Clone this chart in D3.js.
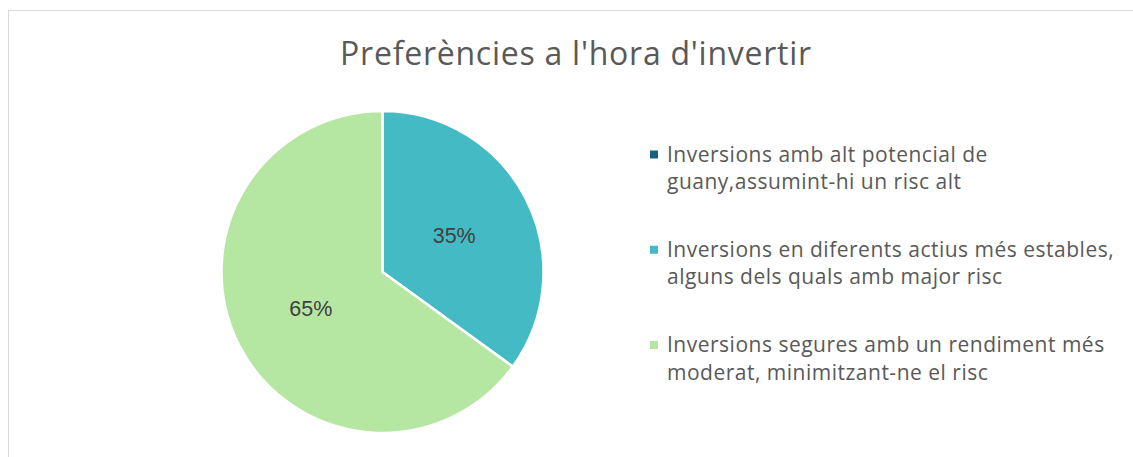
<!DOCTYPE html>
<html>
  <head>
    <meta charset="utf-8">
    <title>Preferències a l'hora d'invertir</title>
    <script src="https://d3js.org/d3.v7.min.js"></script>
    <style>
      html, body { margin: 0; padding: 0; background: #fff; }
      svg { display: block; }
    </style>
  </head>
  <body>
    <div id="vis"></div>
    <script>
        const width = 1133;
        const height = 457;

        // chart data
        const categories = [
          ["Inversions amb alt potencial de", "guany,assumint-hi un risc alt"],
          ["Inversions en diferents actius més estables,", "alguns dels quals amb major risc"],
          ["Inversions segures amb un rendiment més", "moderat, minimitzant-ne el risc"]
        ];
        const values = [0, 35, 65];
        const colors = ["#1b5f80", "#44bac4", "#b5e6a2"];
        const title = "Preferències a l'hora d'invertir";

        const vis = d3.select('#vis')
                      .append('svg')
                      .attr('width', width)
                      .attr('height', height);

        // chart area border
        vis.append("rect")
           .attr("x", 8.5)
           .attr("y", 10.5)
           .attr("width", width + 20)
           .attr("height", height + 20)
           .attr("fill", "none")
           .attr("stroke", "#d9d9d9")
           .attr("stroke-width", 1);

        vis.append("text")
           .attr("x", 576)
           .attr("y", 65)
           .attr("text-anchor", "middle")
           .attr("font-family", "'Open Sans', sans-serif")
           .attr("font-size", 32)
           .attr("letter-spacing", 0.75)
           .attr("fill", "#595959")
           .text(title);

        // pie
        const cx = 382.5, cy = 272, radius = 161;
        const total = d3.sum(values);

        const pie = d3.pie().sort(null).value(d => d);
        const arc = d3.arc().innerRadius(0).outerRadius(radius);

        const g = vis.append("g").attr("transform", `translate(${cx},${cy})`);

        const slices = pie(values);

        g.selectAll("path")
         .data(slices.filter(d => d.value > 0))
         .enter()
         .append("path")
         .attr("d", arc)
         .attr("fill", d => colors[d.index])
         .attr("stroke", "#fff")
         .attr("stroke-width", 2.5)
         .attr("stroke-linejoin", "round");

        g.selectAll("text.label")
         .data(slices.filter(d => d.value > 0))
         .enter()
         .append("text")
         .attr("class", "label")
         .attr("transform", d => `translate(${arc.centroid(d)})`)
         .attr("text-anchor", "middle")
         .attr("dy", "0.35em")
         .attr("font-family", "'Liberation Sans', Arial, sans-serif")
         .attr("font-size", 21.5)
         .attr("fill", "#404040")
         .text(d => Math.round(d.value / total * 100) + "%");

        // legend
        const legend = vis.append("g").attr("transform", "translate(650,0)");
        const entryY = d3.scalePoint().domain(d3.range(categories.length)).range([161.5, 352]);

        const entry = legend.selectAll("g.entry")
                            .data(categories)
                            .enter()
                            .append("g")
                            .attr("class", "entry")
                            .attr("transform", (d, i) => `translate(0,${entryY(i)})`);

        entry.append("rect")
             .attr("x", 0)
             .attr("y", -11)
             .attr("width", 8)
             .attr("height", 8)
             .attr("fill", (d, i) => colors[i]);

        entry.append("text")
             .attr("x", 17)
             .attr("font-family", "'Open Sans', sans-serif")
             .attr("font-size", 21)
             .attr("letter-spacing", 0.5)
             .attr("fill", "#595959")
             .selectAll("tspan")
             .data(d => d)
             .enter()
             .append("tspan")
             .attr("x", 17)
             .attr("y", (d, i) => i * 27.5)
             .text(d => d);
    </script>
  </body>
</html>
